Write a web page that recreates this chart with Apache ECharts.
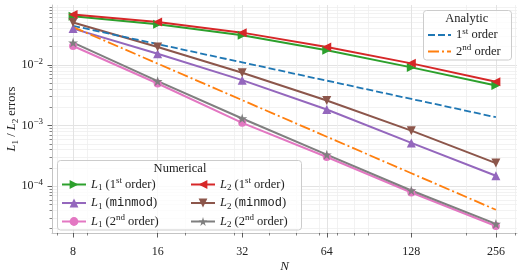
<!DOCTYPE html>
<html><head><meta charset="utf-8">
<script src="https://cdn.jsdelivr.net/npm/echarts@6/dist/echarts.min.js"></script>
<style>html,body{margin:0;padding:0;background:#fff}#c{width:522px;height:272px}</style>
</head><body><div id="c"></div>
<script>
// ---- data ----
const N = [8, 16, 32, 64, 128, 256];
const L1_first  = [0.0634, 0.0467, 0.0308, 0.0174, 0.0091, 0.00458];
const L2_first  = [0.0676, 0.0509, 0.0340, 0.0197, 0.0106, 0.00527];
const L1_minmod = [0.0396, 0.0153, 0.00561, 0.00184, 0.000518, 0.000149];
const L2_minmod = [0.0499, 0.0197, 0.00743, 0.00259, 0.000826, 0.000241];
const L1_second = [0.0205, 0.00494, 0.00111, 0.000304, 0.0000791, 0.0000222];
const L2_second = [0.0233, 0.0054, 0.00131, 0.000332, 0.0000853, 0.000024];
const analytic_first  = [0.044, 0.022, 0.011, 0.0055, 0.00275, 0.001375];
const analytic_second = [0.042, 0.0105, 0.002625, 0.000656, 0.000164, 0.000041];
// ---- ticks ----
const xMajor = [8, 16, 32, 64, 128, 256];
const xMinor = [7, 9, 20, 30, 40, 50, 60, 70, 80, 90, 200, 300];
const yMajor = [1e-4, 1e-3, 1e-2];
const yMinor = [2e-5,3e-5,4e-5,5e-5,6e-5,7e-5,8e-5,9e-5,
                2e-4,3e-4,4e-4,5e-4,6e-4,7e-4,8e-4,9e-4,
                2e-3,3e-3,4e-3,5e-3,6e-3,7e-3,8e-3,9e-3,
                2e-2,3e-2,4e-2,5e-2,6e-2,7e-2,8e-2,9e-2];
const xMin = 6.73, xMax = 304.4, yMin = 1.7e-5, yMax = 0.097;

const SERIF = 'Liberation Serif';
const rich = {
  i: {fontStyle: 'italic'},
  sub: {fontSize: 9, verticalAlign: 'bottom', lineHeight: 9},
  sup: {fontSize: 9, verticalAlign: 'top', lineHeight: 9},
  m: {fontFamily: 'Liberation Mono', fontSize: 12}
};
const labels = {
  'L1 (1st order)': '{i|L}{sub|1} (1{sup|st} order)',
  'L2 (1st order)': '{i|L}{sub|2} (1{sup|st} order)',
  'L1 (minmod)': '{i|L}{sub|1} ({m|minmod})',
  'L2 (minmod)': '{i|L}{sub|2} ({m|minmod})',
  'L1 (2nd order)': '{i|L}{sub|1} (2{sup|nd} order)',
  'L2 (2nd order)': '{i|L}{sub|2} (2{sup|nd} order)',
  'Analytic 1st': '1{sup|st} order',
  'Analytic 2nd': '2{sup|nd} order'
};
function starPath() {
  const pts = [];
  for (let k = 0; k < 10; k++) {
    const r = k % 2 === 0 ? 1 : 0.382;
    const a = Math.PI / 2 + k * Math.PI / 5;
    pts.push((r * Math.cos(a)).toFixed(3) + ',' + (-r * Math.sin(a)).toFixed(3));
  }
  return 'path://M' + pts.join('L') + 'Z';
}
const STAR = starPath();
function pairs(vals) { return N.map((n, i) => [n, vals[i]]); }
function numSeries(name, vals, color, symbol, rot, size) {
  return {
    name, type: 'line', data: pairs(vals), xAxisIndex: 0, yAxisIndex: 0,
    symbol, symbolRotate: rot, symbolSize: size, showSymbol: true,
    lineStyle: {color, width: 2}, itemStyle: {color, borderWidth: 0},
    emphasis: {disabled: true}, animation: false, z: 2
  };
}
const series = [
  numSeries('L1 (1st order)', L1_first, '#2ca02c', 'triangle', -90, 9),
  numSeries('L2 (1st order)', L2_first, '#d62728', 'triangle', 90, 9),
  numSeries('L1 (minmod)', L1_minmod, '#9467bd', 'triangle', 0, 9),
  numSeries('L2 (minmod)', L2_minmod, '#8c564b', 'triangle', 180, 9),
  numSeries('L1 (2nd order)', L1_second, '#e377c2', 'circle', 0, 8),
  numSeries('L2 (2nd order)', L2_second, '#7f7f7f', STAR, 0, 10),
  {name: 'Analytic 1st', type: 'line', data: pairs(analytic_first), symbol: 'none',
   lineStyle: {color: '#1f77b4', width: 1.8, type: [7, 3]}, itemStyle: {color: '#1f77b4'},
   emphasis: {disabled: true}, animation: false, z: 2},
  {name: 'Analytic 2nd', type: 'line', data: pairs(analytic_second), symbol: 'none',
   lineStyle: {color: '#ff7f0e', width: 1.8, type: [11, 3, 2, 3]}, itemStyle: {color: '#ff7f0e'},
   emphasis: {disabled: true}, animation: false, z: 2}
];
const legendText = {fontFamily: SERIF, fontSize: 12.5, color: '#222', lineHeight: 16, rich};
function mkLegend(data, left, top, gap, w, extra) {
  return Object.assign({data, orient: 'vertical', left, top, padding: 0, itemWidth: w, itemHeight: 11,
    itemGap: gap, textStyle: legendText, formatter: n => labels[n], selectedMode: false,
    inactiveColor: '#ccc', z: 5}, extra || {});
}
const axisFont = {fontFamily: SERIF, fontSize: 12, color: '#222'};
const chart = echarts.init(document.getElementById('c'), null, {renderer: 'canvas'});
chart.setOption({
  animation: false,
  grid: {left: 52, right: 5, top: 5, bottom: 39, containLabel: false, outerBoundsMode: 'none'},
  xAxis: [
    {type: 'log', logBase: 2, min: xMin, max: xMax, position: 'bottom',
     axisLine: {show: true, lineStyle: {color: '#c4c4c4', width: 1}},
     axisTick: {show: true, customValues: xMajor, length: 4.5, lineStyle: {color: '#333', width: 0.8}},
     axisLabel: {customValues: xMajor, margin: 13, ...axisFont},
     splitLine: {show: true, lineStyle: {color: '#e3e3e3', width: 1}},
     name: 'N', nameLocation: 'middle', nameGap: 27, nameMoveOverlap: false,
     nameTextStyle: {fontFamily: SERIF, fontStyle: 'italic', fontSize: 13, color: '#222'}},
    {type: 'log', logBase: 2, min: xMin, max: xMax, position: 'bottom',
     axisLine: {show: false},
     axisTick: {show: true, customValues: xMinor, length: 2.5, lineStyle: {color: '#333', width: 0.6}},
     axisLabel: {show: false},
     splitLine: {show: true, lineStyle: {color: '#efefef', width: 0.8}}}
  ],
  yAxis: [
    {type: 'log', logBase: 10, min: yMin, max: yMax, position: 'left',
     axisLine: {show: true, lineStyle: {color: '#c4c4c4', width: 1}},
     axisTick: {show: true, customValues: yMajor, length: 4.5, lineStyle: {color: '#333', width: 0.8}},
     axisLabel: {customValues: yMajor, margin: 9, ...axisFont, lineHeight: 16, rich,
       formatter: v => '10{sup|−' + Math.round(-Math.log10(v)) + '}'},
     splitLine: {show: true, lineStyle: {color: '#e3e3e3', width: 1}},
     name: '{i|L}{sub|1} / {i|L}{sub|2} errors', nameLocation: 'middle', nameGap: 32, nameRotate: 90,
     nameMoveOverlap: false,
     nameTextStyle: {fontFamily: SERIF, fontSize: 12.5, color: '#222', lineHeight: 16, rich}},
    {type: 'log', logBase: 10, min: yMin, max: yMax, position: 'left',
     axisLine: {show: false},
     axisTick: {show: true, customValues: yMinor, length: 2.5, lineStyle: {color: '#333', width: 0.6}},
     axisLabel: {show: false},
     splitLine: {show: true, lineStyle: {color: '#efefef', width: 0.8}}}
  ],
  legend: [
    mkLegend(['L1 (1st order)', 'L1 (minmod)', 'L1 (2nd order)'], 61, 176.5, 2.5, 24),
    mkLegend(['L2 (1st order)', 'L2 (minmod)', 'L2 (2nd order)'], 190, 176.5, 2.5, 24),
    mkLegend(['Analytic 1st', 'Analytic 2nd'], 427, 27, 0.5, 23, {itemStyle: {opacity: 0}})
  ],
  graphic: [
    {type: 'rect', shape: {x: 423.5, y: 10.5, width: 88, height: 49.5, r: 3},
     style: {fill: 'rgba(255,255,255,0.8)', stroke: '#cccccc', lineWidth: 1}, z: 3, silent: true},
    {type: 'text', x: 466.7, y: 19, z: 5, silent: true,
     style: {text: 'Analytic', fontFamily: SERIF, fontSize: 12.5, fill: '#222', align: 'center', verticalAlign: 'middle'}},
    {type: 'rect', shape: {x: 57.5, y: 160.5, width: 244, height: 69.5, r: 3},
     style: {fill: 'rgba(255,255,255,0.8)', stroke: '#cccccc', lineWidth: 1}, z: 3, silent: true},
    {type: 'text', x: 180, y: 169, z: 5, silent: true,
     style: {text: 'Numerical', fontFamily: SERIF, fontSize: 12.5, fill: '#222', align: 'center', verticalAlign: 'middle'}}
  ],
  series
});
</script></body></html>
